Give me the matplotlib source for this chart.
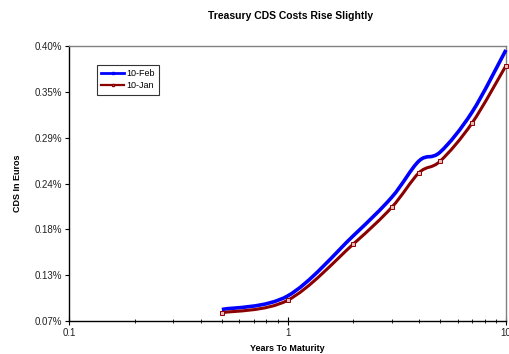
import numpy as np
import matplotlib.pyplot as plt
from matplotlib.path import Path
from matplotlib.patches import PathPatch
from matplotlib.ticker import FixedLocator, NullFormatter

plt.rcParams['font.family'] = ['Liberation Sans', 'DejaVu Sans']

# CDS curve by maturity (years), spread in percent
maturity = [0.5, 1, 2, 3, 4, 5, 7, 10]
feb_cds = [0.0839, 0.1001, 0.1724, 0.2186, 0.2622, 0.2728, 0.3208, 0.3953]
jan_cds = [0.0800, 0.0949, 0.1624, 0.2065, 0.2480, 0.2619, 0.3077, 0.3764]

y_ticks = [0.07, 0.125, 0.18, 0.235, 0.29, 0.345, 0.40]
y_labels = ["0.07%", "0.13%", "0.18%", "0.24%", "0.29%", "0.35%", "0.40%"]
x_ticks = [0.1, 1, 10]
x_labels = ["0.1", "1", "10"]


def smooth_path(xs, ys):
    """Catmull-Rom style bezier through the points, built in log-x space."""
    lx = np.log10(xs)
    ys = np.asarray(ys, dtype=float)
    n = len(lx)
    verts = [(xs[0], ys[0])]
    codes = [Path.MOVETO]
    for i in range(n - 1):
        i0 = max(i - 1, 0)
        i3 = min(i + 2, n - 1)
        c1x = lx[i] + (lx[i + 1] - lx[i0]) / 6
        c1y = ys[i] + (ys[i + 1] - ys[i0]) / 6
        c2x = lx[i + 1] - (lx[i3] - lx[i]) / 6
        c2y = ys[i + 1] - (ys[i3] - ys[i]) / 6
        verts += [(10 ** c1x, c1y), (10 ** c2x, c2y), (xs[i + 1], ys[i + 1])]
        codes += [Path.CURVE4] * 3
    return Path(verts, codes)


fig = plt.figure(figsize=(5.09, 3.54), dpi=100)
ax = fig.add_axes([0.136, 0.093, 0.858, 0.777])
ax.set_xscale('log')
ax.set_xlim(0.1, 10)
ax.set_ylim(0.07, 0.40)

series = [
    ("10-Feb", feb_cds, "#0000ff", 2.6, "#0000ff", 0),
    ("10-Jan", jan_cds, "#8b0000", 2.2, "#e8b8b8", 2.2),
]
for label, vals, color, lw, mfc, ms in series:
    ax.add_patch(PathPatch(smooth_path(maturity, vals), facecolor='none',
                           edgecolor=color, lw=lw, zorder=3, clip_on=False))
    if ms:
        ax.plot(maturity, vals, ls='none', marker='s', ms=ms, mfc=mfc,
                mec=color, mew=0.7, zorder=4, clip_on=False)
    ax.plot([], [], color=color, lw=lw - 0.6, marker='s', ms=2, mfc=mfc,
            mec=color, label=label)

ax.yaxis.set_major_locator(FixedLocator(y_ticks))
ax.set_yticklabels(y_labels)
ax.xaxis.set_major_locator(FixedLocator(x_ticks))
ax.set_xticklabels(x_labels)
ax.xaxis.set_minor_locator(FixedLocator(
    [m * d for d in (0.1, 1) for m in range(2, 10)]))
ax.xaxis.set_minor_formatter(NullFormatter())

ax.tick_params(axis='y', direction='out', length=3, width=0.8,
               labelsize=7, pad=2, colors='black', labelcolor='#222222')
ax.tick_params(axis='x', which='major', direction='inout', length=6,
               width=0.8, labelsize=7, pad=2, labelcolor='#222222')
ax.tick_params(axis='x', which='minor', direction='inout', length=3,
               width=0.6)

for side in ('left', 'bottom'):
    ax.spines[side].set_color('black')
    ax.spines[side].set_linewidth(1.0)
for side in ('top', 'right'):
    ax.spines[side].set_color('#808080')
    ax.spines[side].set_linewidth(1.0)

ax.set_xlabel("Years To Maturity", fontsize=6.5, fontweight='bold', labelpad=4)
ax.set_ylabel("CDS In Euros", fontsize=6.5, fontweight='bold', labelpad=9)
fig.text(0.57, 0.955, "Treasury CDS Costs Rise Slightly", ha='center',
         va='center', fontsize=7.5, fontweight='bold')

leg = ax.legend(loc='upper left', bbox_to_anchor=(0.063, 0.93), fontsize=6.5,
                frameon=True, fancybox=False, edgecolor='black',
                handlelength=2.6, handletextpad=0.2, borderpad=0.45,
                labelspacing=0.35, borderaxespad=0)
leg.get_frame().set_linewidth(0.8)

fig.savefig("out.png", dpi=100)
